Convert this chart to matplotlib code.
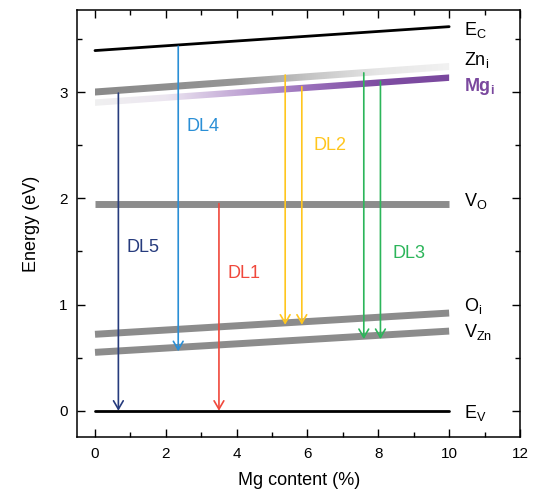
import numpy as np
import matplotlib
matplotlib.use("Agg")
import matplotlib.pyplot as plt
from matplotlib.patches import Polygon
from matplotlib.colors import LinearSegmentedColormap

plt.rcParams['font.family'] = ['Liberation Sans', 'DejaVu Sans']
plt.rcParams['mathtext.default'] = 'regular'

# ---- data ----
x_range = [0, 10]
ec = [3.39, 3.615]          # conduction band edge
ev = [0.0, 0.0]             # valence band edge
zni = [3.00, 3.24]          # Zn interstitial
mgi = [2.90, 3.135]         # Mg interstitial
vo = [1.95, 1.95]           # O vacancy
oi = [0.72, 0.92]           # O interstitial
vzn = [0.55, 0.75]          # Zn vacancy

level_labels = [r'E$_C$', r'Zn$_i$', r'Mg$_i$', r'V$_O$', r'O$_i$', r'V$_{Zn}$', r'E$_V$']
level_label_y = [3.58, 3.30, 3.05, 1.97, 0.99, 0.74, -0.02]

# transitions: (name, x, start energy, end energy)
arrow_names = ['DL5', 'DL4', 'DL1', 'DL2', 'DL2', 'DL3', 'DL3']
arrow_x = [0.66, 2.35, 3.50, 5.37, 5.84, 7.59, 8.06]
arrow_start = [2.99, 3.43, 1.95, 3.16, 3.05, 3.18, 3.10]
arrow_end = [0.0, 0.56, 0.0, 0.81, 0.81, 0.675, 0.675]

dl_labels = ['DL5', 'DL4', 'DL1', 'DL2', 'DL3']
dl_label_x = [1.36, 3.05, 4.21, 6.64, 8.87]
dl_label_y = [1.54, 2.68, 1.29, 2.50, 1.48]

xticks = [0, 2, 4, 6, 8, 10, 12]
yticks = [0, 1, 2, 3]

# ---- style ----
dl_colors = {'DL5': '#263b7d', 'DL4': '#2a8fd6', 'DL1': '#f0483c',
             'DL2': '#ffc61e', 'DL3': '#2cb55a'}
gray = '#8c8c8c'
band_h = 0.066   # band thickness in eV

fig = plt.figure(figsize=(5.39, 4.97), dpi=100)
ax = fig.add_axes([0.1434, 0.120, 0.8213, 0.8595])

ax.set_xlim(-0.5, 12)
ax.set_ylim(-0.25, 3.77)


def gradient_band(ax, xs, ys, cmap, h):
    poly = Polygon([(xs[0], ys[0] - h / 2), (xs[1], ys[1] - h / 2),
                    (xs[1], ys[1] + h / 2), (xs[0], ys[0] + h / 2)],
                   closed=True, facecolor='none', edgecolor='none')
    ax.add_patch(poly)
    grad = np.linspace(0, 1, 512).reshape(1, -1)
    im = ax.imshow(grad, cmap=cmap, aspect='auto', interpolation='bilinear',
                   extent=[xs[0], xs[1], min(ys) - h, max(ys) + h],
                   origin='lower', zorder=2)
    im.set_clip_path(poly)


zn_cmap = LinearSegmentedColormap.from_list(
    'zn', [(0, '#8a8a8a'), (0.4, '#959595'), (0.6, '#c4c4c4'), (0.8, '#e6e6e6'), (1, '#f2f2f2')])
mg_cmap = LinearSegmentedColormap.from_list(
    'mg', [(0, '#f0f0f0'), (0.2, '#ece6f1'), (0.4, '#c3a9d6'), (0.6, '#9a70bb'), (0.8, '#7e4da2'), (1, '#7a489e')])

gradient_band(ax, x_range, mgi, mg_cmap, band_h * 0.92)
gradient_band(ax, x_range, zni, zn_cmap, band_h)

for lev in (vo, oi, vzn):
    ax.plot(x_range, lev, color=gray, lw=5.0, solid_capstyle='butt', zorder=2)

ax.plot(x_range, ec, color='black', lw=2.0, solid_capstyle='round', zorder=3)
ax.plot(x_range, ev, color='black', lw=2.0, solid_capstyle='round', zorder=3)

for name, x, y0, y1 in zip(arrow_names, arrow_x, arrow_start, arrow_end):
    ax.annotate('', xy=(x, y1), xytext=(x, y0),
                arrowprops=dict(arrowstyle='->,head_length=0.6,head_width=0.35',
                                color=dl_colors[name], lw=1.2,
                                shrinkA=0, shrinkB=0),
                zorder=4)

for name, x, y in zip(dl_labels, dl_label_x, dl_label_y):
    ax.text(x, y, name, color=dl_colors[name], fontsize=13,
            ha='center', va='center')

for lab, y in zip(level_labels, level_label_y):
    is_mg = 'Mg' in lab
    ax.text(10.42, y, lab, color='#7a489e' if is_mg else 'black', fontsize=13,
            fontweight='bold' if is_mg else 'normal', ha='left', va='center')

ax.set_xticks(xticks)
ax.set_yticks(yticks)
ax.set_xticks(np.arange(1, 12, 2), minor=True)
ax.set_yticks(np.arange(-0.0, 3.76, 0.5), minor=True)
ax.tick_params(which='both', direction='in', top=True, right=True, width=1.0)
ax.tick_params(which='major', length=6, labelsize=11, pad=7)
ax.tick_params(which='minor', length=3.5)
for s in ax.spines.values():
    s.set_linewidth(1.1)

ax.set_xlabel('Mg content (%)', fontsize=13, labelpad=8)
ax.set_ylabel('Energy (eV)', fontsize=13, labelpad=14)

fig.savefig('out.png', dpi=100)
